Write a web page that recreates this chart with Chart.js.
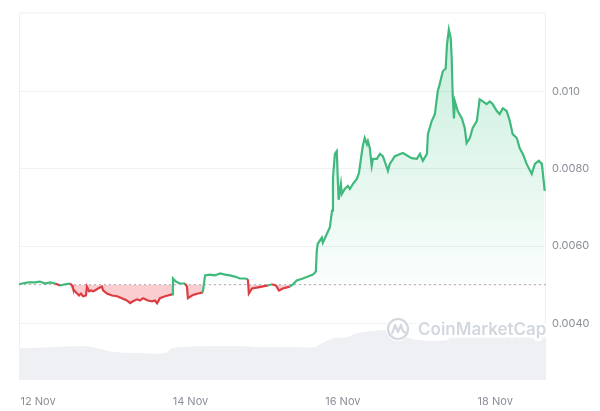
<!DOCTYPE html>
<html>
<head>
<meta charset="utf-8">
<script src="https://cdn.jsdelivr.net/npm/chart.js@4"></script>
<style>
  html, body { margin: 0; padding: 0; background: #fff; }
  #wrap { width: 600px; height: 411px; }
</style>
</head>
<body>
<div id="wrap"><canvas id="priceChart"></canvas></div>
<script>
// hours since 12 Nov 00:00
const priceHours = [-6, -5, -3.1, -0.9, 0.6, 2.2, 3.8, 5.4, 6.9, 8.5,
  10.1, 10.7, 11.0, 11.6, 12.3, 12.9, 13.5, 14.2, 15.1, 15.4, 16.1, 16.7, 17.3, 17.9, 18.9, 20.1, 20.5, 21.7, 23.3, 24.9,
  26.4, 28.0, 29.0, 29.9, 31.2, 32.1, 33.1, 34.6, 35.9, 36.8, 37.5, 38.4, 40.0, 40.9, 42.2, 42.5, 43.4, 44.7, 46.3, 46.9,
  47.2, 48.5, 49.4, 50.4, 51.9, 52.6,
  54.1, 55.7, 57.3, 58.9, 60.4, 62.0, 63.6, 65.2, 66.1, 66.4, 67.4, 69.3,
  70.5, 72.4, 73.7, 74.9, 75.9, 77.1, 79.3, 80.3, 81.5, 83.4, 85.0, 86.6, 87.5, 87.8, 88.1, 89.4, 89.7, 91.0, 91.9, 92.6,
  92.9, 93.5, 94.1, 94.4, 94.7, 95.4, 95.7, 96.6, 97.6, 98.2, 99.2, 100.4, 101.1, 101.7, 102.3, 102.9, 103.6, 103.9, 104.5, 105.1,
  105.5, 106.7, 107.7, 108.6, 109.9, 110.2, 110.8, 112.4, 114.9, 117.7, 119.3, 120.3, 121.2, 122.5, 122.8, 124.0, 125.0, 125.9, 126.5, 127.5,
  128.4, 128.8, 129.4, 130.0, 130.3, 130.6, 131.0, 131.3, 132.2, 133.5, 134.4, 135.0, 136.0, 136.9, 138.2, 139.1, 140.1, 141.3, 142.3, 143.2,
  144.5, 145.4, 146.4, 147.6, 148.6, 149.5, 150.8, 151.7, 152.7, 153.9, 155.5, 156.5, 157.7, 158.7, 159.6];
const priceValues = [0.00501, 0.00503, 0.00506, 0.00506, 0.00508, 0.00503, 0.00506, 0.00503, 0.00498, 0.00501,
  0.00503, 0.00498, 0.00490, 0.00483, 0.00477, 0.00472, 0.00477, 0.00470, 0.00472, 0.00495, 0.00483, 0.00485, 0.00483, 0.00485, 0.00490, 0.00495, 0.00485, 0.00477, 0.00472, 0.00470,
  0.00465, 0.00459, 0.00452, 0.00457, 0.00462, 0.00459, 0.00465, 0.00459, 0.00457, 0.00459, 0.00452, 0.00465, 0.00470, 0.00472, 0.00475, 0.00516, 0.00508, 0.00503, 0.00503, 0.00495,
  0.00465, 0.00472, 0.00475, 0.00477, 0.00480, 0.00524,
  0.00526, 0.00524, 0.00529, 0.00526, 0.00524, 0.00521, 0.00516, 0.00516, 0.00514, 0.00477, 0.00490, 0.00493,
  0.00495, 0.00498, 0.00501, 0.00498, 0.00485, 0.00490, 0.00495, 0.00501, 0.00511, 0.00516, 0.00521, 0.00526, 0.00534, 0.00588, 0.00606, 0.00622, 0.00609, 0.00632, 0.00648, 0.00692,
  0.00777, 0.00839, 0.00846, 0.00777, 0.00720, 0.00761, 0.00735, 0.00748, 0.00756, 0.00748, 0.00761, 0.00774, 0.00790, 0.00826, 0.00860, 0.00880, 0.00864, 0.00872, 0.00854, 0.00808,
  0.00826, 0.00826, 0.00839, 0.00833, 0.00803, 0.00795, 0.00813, 0.00833, 0.00841, 0.00828, 0.00826, 0.00839, 0.00821, 0.00839, 0.00890, 0.00924, 0.00942, 0.01001, 0.01019, 0.01053,
  0.01060, 0.01122, 0.01161, 0.01138, 0.01086, 0.00993, 0.00931, 0.00975, 0.00950, 0.00931, 0.00906, 0.00867, 0.00880, 0.00906, 0.00924, 0.00980, 0.00975, 0.00968, 0.00975, 0.00968,
  0.00950, 0.00942, 0.00957, 0.00950, 0.00924, 0.00890, 0.00880, 0.00854, 0.00839, 0.00813, 0.00787, 0.00813, 0.00821, 0.00813, 0.00743];
const openPrice = 0.005;

// 24h volume, millions
const volumeHours = [-6, 3.8, 15.7, 24.2, 32.1, 40.0, 42.2, 51.0, 66.1, 69.3, 82.5, 87.2, 89.4, 92.9, 97.3, 100.4, 107.7, 113.3, 118.1, 128.8, 130.6, 139.1, 154.9, 159.9];
const volumeValues = [3.2, 3.3, 3.4, 2.8, 2.7, 2.7, 3.2, 3.4, 3.4, 3.3, 3.3, 3.3, 3.7, 4.2, 4.3, 4.7, 5.0, 4.9, 4.1, 4.0, 4.5, 4.3, 4.3, 4.3];

const xTickHours = [0, 48, 96, 144];
const xTickLabels = ['12 Nov', '14 Nov', '16 Nov', '18 Nov'];
const yTickValues = [0.004, 0.006, 0.008, 0.010];

const GREEN = '#3fb97c';
const RED = '#dc3d43';
const RED_FILL = 'rgba(234, 57, 67, 0.25)';

const frame = {
  id: 'frame',
  beforeDatasetsDraw(chart) {
    const { ctx, chartArea: a } = chart;
    ctx.save();
    ctx.strokeStyle = '#eceef1';
    ctx.lineWidth = 1;
    ctx.beginPath();
    ctx.moveTo(a.left + 0.5, a.bottom);
    ctx.lineTo(a.left + 0.5, a.top + 0.5);
    ctx.lineTo(a.right - 0.5, a.top + 0.5);
    ctx.lineTo(a.right - 0.5, a.bottom);
    ctx.stroke();
    ctx.restore();
  },
  afterDatasetsDraw(chart) {
    // CoinMarketCap watermark
    const { ctx, chartArea: a } = chart;
    const cx = a.right - 148, cy = a.bottom - 51;
    ctx.save();
    ctx.font = '600 17px Inter, "Noto Sans", sans-serif';
    ctx.textBaseline = 'middle';
    ctx.lineJoin = 'round';
    ctx.strokeStyle = 'rgba(255,255,255,0.9)';
    ctx.lineWidth = 6;
    ctx.strokeText('CoinMarketCap', cx + 20, cy + 1);
    ctx.beginPath();
    ctx.arc(cx, cy, 12, 0, Math.PI * 2);
    ctx.fillStyle = 'rgba(255,255,255,0.9)';
    ctx.fill();
    ctx.fillStyle = '#d3d7de';
    ctx.fillText('CoinMarketCap', cx + 20, cy + 1);
    ctx.strokeStyle = '#d3d7de';
    ctx.lineWidth = 2.2;
    ctx.beginPath();
    ctx.arc(cx, cy, 10, 0, Math.PI * 2);
    ctx.stroke();
    ctx.beginPath();
    ctx.moveTo(cx - 6, cy + 5);
    ctx.lineTo(cx - 3, cy - 4);
    ctx.lineTo(cx, cy + 3);
    ctx.lineTo(cx + 3, cy - 4);
    ctx.quadraticCurveTo(cx + 5, cy + 5, cx + 8, cy + 3);
    ctx.stroke();
    ctx.restore();
  }
};

new Chart(document.getElementById('priceChart'), {
  type: 'line',
  data: {
    datasets: [
      {
        label: 'Price',
        data: priceHours.map((h, i) => ({ x: h, y: priceValues[i] })),
        yAxisID: 'y',
        borderColor: GREEN,
        borderWidth: 2.2,
        pointRadius: 0,
        tension: 0,
        segment: {
          // red while the segment ends below the open price
          borderColor: (c) => c.p1.parsed.y < openPrice ? RED : GREEN
        },
        backgroundColor: (c) => {
          const chart = c.chart;
          const area = chart.chartArea;
          const ys = chart.scales.y;
          if (!area || !ys) return 'rgba(22,199,132,0.12)';
          const g = chart.ctx.createLinearGradient(0, ys.getPixelForValue(Math.max(...priceValues)), 0, ys.getPixelForValue(openPrice));
          g.addColorStop(0, 'rgba(22, 184, 110, 0.24)');
          g.addColorStop(1, 'rgba(22, 184, 110, 0.02)');
          return g;
        },
        fill: { target: { value: openPrice }, below: RED_FILL }
      },
      {
        label: 'Open',
        data: [{ x: -6, y: openPrice }, { x: 160, y: openPrice }],
        yAxisID: 'y',
        borderColor: '#a9adb4',
        borderWidth: 1,
        borderDash: [2, 3],
        pointRadius: 0,
        fill: false
      },
      {
        label: 'Volume',
        data: volumeHours.map((h, i) => ({ x: h, y: volumeValues[i] })),
        yAxisID: 'vol',
        borderWidth: 0,
        borderColor: 'rgba(0,0,0,0)',
        backgroundColor: '#eef0f3',
        pointRadius: 0,
        tension: 0.3,
        fill: 'origin'
      }
    ]
  },
  options: {
    responsive: true,
    maintainAspectRatio: false,
    animation: false,
    layout: { padding: { left: 19, top: 11, right: 0, bottom: 0 } },
    plugins: {
      legend: { display: false },
      tooltip: { enabled: false }
    },
    scales: {
      x: {
        type: 'linear',
        min: -6,
        max: 160,
        grid: { display: false },
        border: { display: false },
        afterBuildTicks: (scale) => { scale.ticks = xTickHours.map(v => ({ value: v })); },
        afterFit: (scale) => { scale.height = 31; },
        ticks: {
          padding: 7,
          maxRotation: 0,
          color: '#8a8f98',
          font: { family: 'Inter, "Noto Sans", sans-serif', size: 11 },
          callback: (v) => xTickLabels[xTickHours.indexOf(v)]
        }
      },
      y: {
        position: 'right',
        min: 0.00253,
        max: 0.01205,
        grid: { color: '#f0f1f3', drawTicks: false },
        border: { display: false },
        afterBuildTicks: (scale) => { scale.ticks = yTickValues.map(v => ({ value: v })); },
        afterFit: (scale) => { scale.width = 54; },
        ticks: {
          padding: 6,
          color: '#8a8f98',
          font: { family: 'Inter, "Noto Sans", sans-serif', size: 11 },
          callback: (v) => v >= 0.01 ? v.toFixed(3) : v.toFixed(4)
        }
      },
      vol: {
        display: false,
        min: 0,
        max: 36.9
      }
    }
  },
  plugins: [frame]
});
</script>
</body>
</html>
